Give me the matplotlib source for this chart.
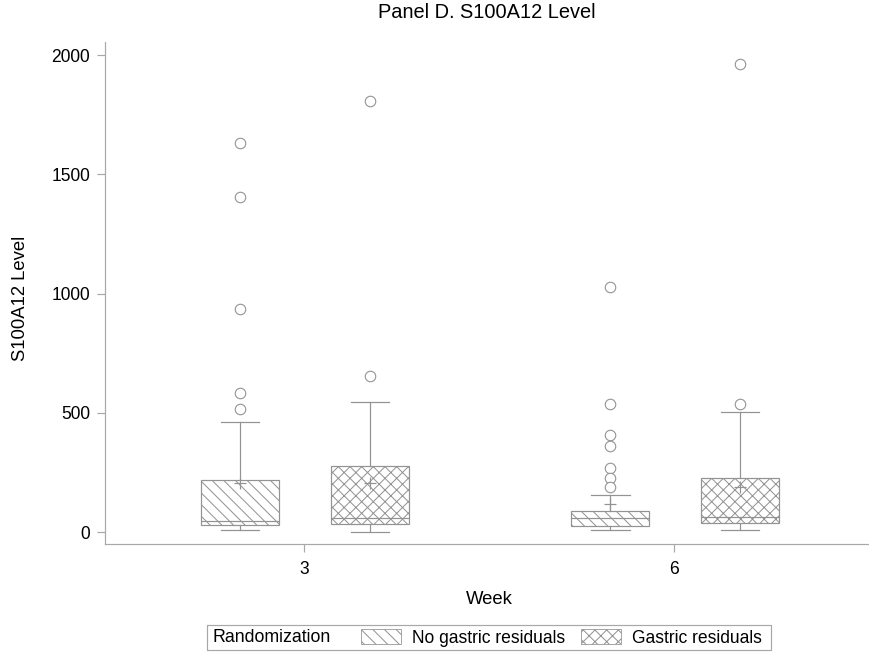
import matplotlib
matplotlib.use("Agg")
import matplotlib.pyplot as plt
from matplotlib.patches import Patch, Rectangle

# ---------------- data ----------------
weeks = ["3", "6"]
groups = ["No gastric residuals", "Gastric residuals"]
group_hatch = ["\\\\", "xx"]

# per group: [week3, week6]
q1 = {"No gastric residuals": [29, 25], "Gastric residuals": [34, 38]}
median = {"No gastric residuals": [47, 57], "Gastric residuals": [59, 62]}
q3 = {"No gastric residuals": [218, 88], "Gastric residuals": [277, 226]}
whisker_low = {"No gastric residuals": [8, 8], "Gastric residuals": [0, 8]}
whisker_high = {"No gastric residuals": [461, 155], "Gastric residuals": [545, 503]}
mean = {"No gastric residuals": [205, 117], "Gastric residuals": [205, 189]}
outliers = {
    "No gastric residuals": [[1630, 1403, 937, 583, 517],
                             [1028, 539, 408, 361, 268, 228, 187]],
    "Gastric residuals": [[1806, 656], [1962, 535]],
}
yticks = [0, 500, 1000, 1500, 2000]

# ---------------- style ----------------
DPI = 70
def pt(px):
    return px * 72.0 / DPI

GRAY = "#939393"
AXGRAY = "#a8a8a8"
plt.rcParams["font.family"] = ["Liberation Sans", "DejaVu Sans"]
plt.rcParams["hatch.color"] = GRAY
plt.rcParams["hatch.linewidth"] = pt(1.0)

fig = plt.figure(figsize=(869 / DPI, 652 / DPI), dpi=DPI)
W, H = 869, 652
ax = fig.add_axes([105 / W, (H - 544) / H, 763 / W, 502 / H])

offsets = [-0.173, 0.178]
box_w = 0.211
cap_w = 0.105

for gi, g in enumerate(groups):
    stats = []
    for wi in range(len(weeks)):
        stats.append(dict(med=median[g][wi], q1=q1[g][wi], q3=q3[g][wi],
                          whislo=whisker_low[g][wi], whishi=whisker_high[g][wi],
                          mean=mean[g][wi], fliers=outliers[g][wi]))
    pos = [wi + offsets[gi] for wi in range(len(weeks))]
    ax.bxp(stats, positions=pos, widths=box_w, capwidths=cap_w,
           showmeans=True, patch_artist=True,
           boxprops=dict(facecolor="white", edgecolor=GRAY, linewidth=pt(1.2),
                         hatch=group_hatch[gi]),
           medianprops=dict(color=GRAY, linewidth=pt(1.2)),
           whiskerprops=dict(color=GRAY, linewidth=pt(1.2)),
           capprops=dict(color=GRAY, linewidth=pt(1.2)),
           meanprops=dict(marker="+", markersize=pt(12), markeredgecolor=GRAY,
                          markeredgewidth=pt(1.2)),
           flierprops=dict(marker="o", markersize=pt(10.5), markerfacecolor="white",
                           markeredgecolor=GRAY, markeredgewidth=pt(1.1)))

ax.set_xlim(-0.538, 1.524)
ax.set_ylim(-50, 2055)
ax.set_xticks(range(len(weeks)))
ax.set_xticklabels(weeks)
ax.set_yticks(yticks)
ax.set_yticklabels([str(v) for v in yticks])

for s in ["top", "right"]:
    ax.spines[s].set_visible(False)
for s in ["left", "bottom"]:
    ax.spines[s].set_color(AXGRAY)
    ax.spines[s].set_linewidth(pt(1.2))
ax.tick_params(axis="both", colors=AXGRAY, labelcolor="black", length=pt(8),
               width=pt(1.2), labelsize=pt(17.5))
ax.tick_params(axis="y", pad=pt(7))
ax.tick_params(axis="x", pad=pt(9))

ax.set_title("Panel D. S100A12 Level", fontsize=pt(20), va="center",
             y=(544 - 18) / 502)
ax.set_xlabel("Week", fontsize=pt(18.5), va="center")
ax.xaxis.set_label_coords(0.504, (544 - 600) / 502)
ax.set_ylabel("S100A12 Level", fontsize=pt(18.5), va="center")
ax.yaxis.set_label_coords((21 - 105) / 763, 0.49)

# ---------------- legend ----------------
frame = Rectangle((207 / W, (H - 650) / H), (771 - 207) / W, 25 / H,
                  transform=fig.transFigure, facecolor="none",
                  edgecolor=AXGRAY, linewidth=pt(1.2))
fig.add_artist(frame)
fig.text(213 / W, (H - 637.5) / H, "Randomization", fontsize=pt(17.8),
         ha="left", va="center")
handles = [Patch(facecolor="white", edgecolor=GRAY, hatch=group_hatch[i],
                 linewidth=pt(0.8), label=groups[i]) for i in range(len(groups))]
fig.legend(handles=handles, loc="center left",
           bbox_to_anchor=(361 / W, (H - 638) / H), bbox_transform=fig.transFigure,
           ncol=2, frameon=False, fontsize=pt(17.5), borderpad=0, borderaxespad=0,
           handlelength=40 / 17.5, handleheight=15 / 17.5, handletextpad=0.6,
           columnspacing=0.95)

fig.savefig("out.png", dpi=DPI)
